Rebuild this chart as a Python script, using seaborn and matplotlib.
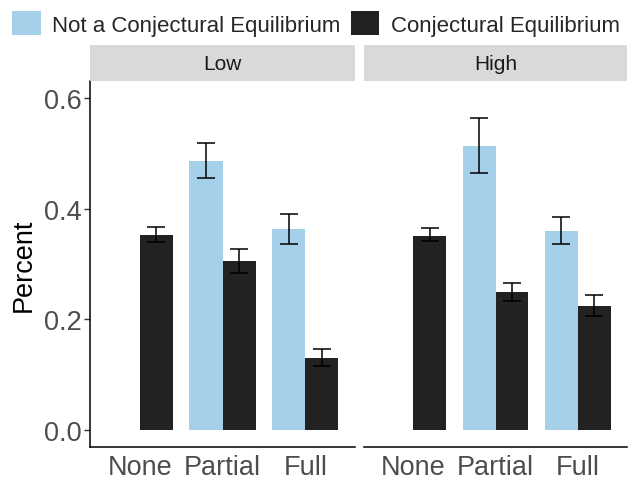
import matplotlib
matplotlib.use("Agg")
import matplotlib.pyplot as plt
import seaborn as sns
import pandas as pd
import numpy as np
from matplotlib.patches import Patch

sns.set_theme(style="white")
plt.rcParams['font.family'] = ['Liberation Sans', 'DejaVu Sans']

panels = ["Low", "High"]
categories = ["None", "Partial", "Full"]
groups = ["Not a Conjectural Equilibrium", "Conjectural Equilibrium"]

# values per panel: [blue (Not CE), dark (CE)] for None, Partial, Full
low_not_ce = [np.nan, 0.487, 0.363]
low_ce = [0.353, 0.305, 0.130]
low_not_ce_lo = [np.nan, 0.456, 0.337]
low_not_ce_hi = [np.nan, 0.518, 0.391]
low_ce_lo = [0.340, 0.284, 0.116]
low_ce_hi = [0.366, 0.327, 0.146]

high_not_ce = [np.nan, 0.514, 0.359]
high_ce = [0.351, 0.249, 0.224]
high_not_ce_lo = [np.nan, 0.4645, 0.337]
high_not_ce_hi = [np.nan, 0.563, 0.385]
high_ce_lo = [0.341, 0.233, 0.206]
high_ce_hi = [0.3645, 0.265, 0.2445]

colors = {"Not a Conjectural Equilibrium": "#a4d0ea", "Conjectural Equilibrium": "#222222"}

rows = []
for panel, nce, ce, nlo, nhi, clo, chi in [
    ("Low", low_not_ce, low_ce, low_not_ce_lo, low_not_ce_hi, low_ce_lo, low_ce_hi),
    ("High", high_not_ce, high_ce, high_not_ce_lo, high_not_ce_hi, high_ce_lo, high_ce_hi),
]:
    for i, c in enumerate(categories):
        rows.append(dict(panel=panel, cat=c, group=groups[0], val=nce[i], lo=nlo[i], hi=nhi[i]))
        rows.append(dict(panel=panel, cat=c, group=groups[1], val=ce[i], lo=clo[i], hi=chi[i]))
df = pd.DataFrame(rows)

W, H = 629, 481
fig = plt.figure(figsize=(W / 100, H / 100), dpi=100)

def frac(x0, y0, x1, y1):
    return [x0 / W, 1 - y1 / H, (x1 - x0) / W, (y1 - y0) / H]

panel_px = {"Low": (90, 82, 355, 448), "High": (364, 82, 627, 448)}
strip_px = {"Low": (90, 46, 355, 82), "High": (364, 46, 627, 82)}

TICK_FS = 19.5

for k, panel in enumerate(panels):
    ax = fig.add_axes(frac(*panel_px[panel]))
    sub = df[df.panel == panel]
    sns.barplot(data=sub, x="cat", y="val", hue="group", order=categories,
                hue_order=groups, palette=colors, width=0.8, errorbar=None,
                ax=ax, legend=False, saturation=1, linewidth=0)
    # error bars at the dodged bar centres
    for gi, g in enumerate(groups):
        gsub = sub[sub.group == g].set_index("cat").loc[categories]
        xs = np.arange(len(categories)) + (gi - 0.5) * 0.4
        ok = ~gsub.val.isna().values
        ax.errorbar(xs[ok], gsub.val.values[ok],
                    yerr=[gsub.val.values[ok] - gsub.lo.values[ok], gsub.hi.values[ok] - gsub.val.values[ok]],
                    fmt="none", ecolor="black", elinewidth=1.1, capsize=6.2, capthick=1.1, zorder=5)
    ax.set_xlim(-0.6, 2.6)
    ax.set_ylim(-0.0307, 0.6307)
    ax.set_yticks([0.0, 0.2, 0.4, 0.6])
    ax.set_xlabel("")
    for s in ["top", "right"]:
        ax.spines[s].set_visible(False)
    ax.spines["bottom"].set_color("black")
    ax.spines["bottom"].set_linewidth(1.1)
    ax.tick_params(axis="x", length=4, width=1, color="#333333", labelsize=TICK_FS, labelcolor="#4d4d4d", pad=1)
    if k == 0:
        ax.spines["left"].set_color("black")
        ax.spines["left"].set_linewidth(1.1)
        ax.set_ylabel("Percent", fontsize=TICK_FS, color="black", labelpad=5)
        ax.tick_params(axis="y", length=4, width=1, color="#333333", labelsize=TICK_FS, labelcolor="#4d4d4d", pad=2, left=True)
        ax.set_yticklabels(["0.0", "0.2", "0.4", "0.6"])
    else:
        ax.spines["left"].set_visible(False)
        ax.set_ylabel("")
        ax.tick_params(axis="y", left=False, labelleft=False)
    ax.set_facecolor("white")

    sax = fig.add_axes(frac(*strip_px[panel]))
    sax.set_facecolor("#d9d9d9")
    sax.set_xticks([]); sax.set_yticks([])
    for s in sax.spines.values():
        s.set_visible(False)
    sax.text(0.5, 0.5, panel, ha="center", va="center", fontsize=15, color="#1a1a1a", transform=sax.transAxes)

handles = [Patch(facecolor=colors[g], edgecolor="none", label=g) for g in groups]
fig.legend(handles=handles, loc="upper left", bbox_to_anchor=(0.0, 1.0), ncol=2, frameon=False,
           fontsize=16, handlelength=1.3, handleheight=1.3, handletextpad=0.5, columnspacing=0.45,
           borderaxespad=0.25, borderpad=0.3)

fig.savefig("out.png", dpi=100)
